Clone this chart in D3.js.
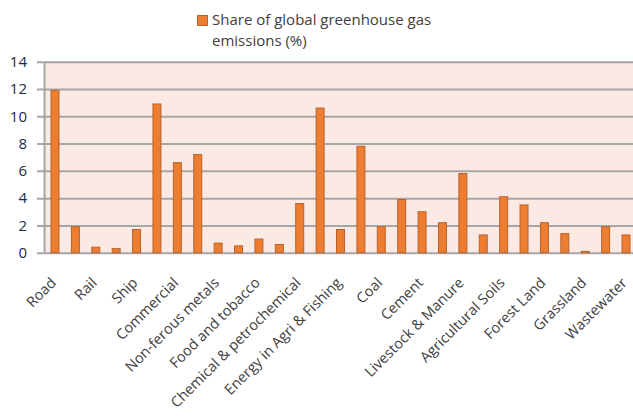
<!DOCTYPE html>
<html><head><meta charset="utf-8">
<script src="https://cdn.jsdelivr.net/npm/d3@7"></script>
<style>body{margin:0;background:#fff;} svg{display:block;}</style>
</head><body>
<svg id="c" width="633" height="416"></svg>
<script>
const categories = ["Road","Aviation","Rail","Pipeline","Ship","Residential","Commercial","Iron & Steel",
  "Non-ferous metals","Machinery","Food and tobacco","Paper, pulp & printing","Chemical & petrochemical",
  "Other industry","Energy in Agri & Fishing","Unallocated fuel combustion","Coal","Oil & Gas","Cement",
  "Chemicals","Livestock & Manure","Rice Cultivation","Agricultural Soils","Crop Burning","Forest Land",
  "Cropland","Grassland","Landfills","Wastewater"];
const values = [11.9,1.9,0.4,0.3,1.7,10.9,6.6,7.2,0.7,0.5,1.0,0.6,3.6,10.6,1.7,7.8,1.9,3.9,3.0,2.2,5.8,1.3,4.1,3.5,2.2,1.4,0.1,1.9,1.3];
const yTicks = [0,2,4,6,8,10,12,14];
const seriesName = ["Share of global greenhouse gas","emissions (%)"];

const svg = d3.select("#c");
const x = d3.scaleBand().domain(categories).range([44.8, 636.2]).paddingInner(0.56).paddingOuter(0.28);
const y = d3.scaleLinear().domain([0,14]).range([252.7, 61.7]);

// plot background
svg.append("rect").attr("x", x.range()[0]).attr("y", y(14)).attr("width", 633 - x.range()[0]).attr("height", y(0) - y(14)).attr("fill", "#fbe9e4");

// gridlines + y axis
const yAxis = d3.axisLeft(y).tickValues(yTicks).tickSize(-(640 - 37)).tickPadding(10).tickFormat(d3.format("d"));
const gy = svg.append("g").attr("transform", "translate(37,0)").call(yAxis);
gy.select(".domain").remove();
gy.selectAll(".tick line").attr("stroke", "#a6a6a6").attr("stroke-width", 2);
gy.selectAll(".tick text").attr("fill", "#1c2a48").style("font-family", "'Open Sans', sans-serif").style("font-size", "15px").attr("x", -10);
// left axis line
svg.append("line").attr("x1", 44.5).attr("x2", 44.5).attr("y1", y(14)).attr("y2", y(0)).attr("stroke", "#a6a6a6").attr("stroke-width", 2);

// bars
svg.append("g").selectAll("rect").data(values).join("rect")
  .attr("x", (d,i) => x(categories[i]) + 0.5)
  .attr("y", d => y(d))
  .attr("width", x.bandwidth() - 1)
  .attr("height", d => y(0) - y(d))
  .attr("fill", "#ed7d31").attr("stroke", "#b9622a").attr("stroke-width", 1);

// x labels (every other category)
const xAxis = d3.axisBottom(x).tickValues(categories.filter((c,i) => i % 2 === 0)).tickSize(0);
const gx = svg.append("g").attr("transform", `translate(0,${y(0)})`).call(xAxis);
gx.select(".domain").remove();
gx.selectAll(".tick text")
  .attr("fill", "#404040").style("font-family", "'Open Sans', sans-serif").style("font-size", "14.5px")
  .attr("text-anchor", "end").attr("dy", null).attr("y", 0)
  .attr("transform", "translate(2,31) rotate(-45)");

// legend
const lg = svg.append("g");
lg.append("rect").attr("x", 197.5).attr("y", 15.5).attr("width", 10).attr("height", 10).attr("fill", "#ed7d31").attr("stroke", "#b9622a");
lg.selectAll("text").data(seriesName).join("text")
  .attr("x", 212).attr("y", (d,i) => 25 + i*20.5)
  .attr("fill", "#404040").style("font-family", "'Open Sans', sans-serif").style("font-size", "15px")
  .text(d => d);
</script>
</body></html>
